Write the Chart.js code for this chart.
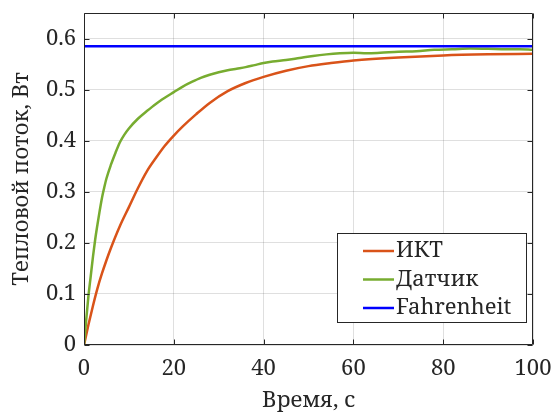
<!DOCTYPE html>
<html>
<head>
<meta charset="utf-8">
<script src="https://cdn.jsdelivr.net/npm/chart.js@4/dist/chart.umd.min.js"></script>
<style>
  html, body { margin: 0; padding: 0; background: #fff; }
  #wrap { width: 554px; height: 414px; }
</style>
</head>
<body>
<div id="wrap"><canvas id="grafico" width="554" height="414"></canvas></div>
<script>
// данные
const tempoIKT = [0, 1, 2, 3, 4, 5, 6, 8, 10, 12, 14, 16, 18, 20, 22, 25, 28, 32, 36, 40, 45, 50, 55, 60, 70, 80, 90, 100];
const valoresIKT = [0, 0.04, 0.077, 0.111, 0.14, 0.166, 0.19, 0.233, 0.27, 0.307, 0.34, 0.366, 0.39, 0.41, 0.428, 0.452, 0.474, 0.497, 0.513, 0.525, 0.537, 0.546, 0.552, 0.557, 0.563, 0.567, 0.569, 0.57];

const tempoSensor = [0, 0.5, 1, 1.5, 2, 2.5, 3, 3.5, 4, 4.5, 5, 6, 7, 8, 9, 10, 12, 14, 16, 18, 20, 22, 24, 26, 28, 30, 32, 34, 36, 38, 40, 42, 45, 48, 51, 54, 57, 60, 63, 66, 70, 74, 78, 82, 86, 90, 94, 97, 100];
const valoresSensor = [0, 0.05, 0.097, 0.135, 0.173, 0.207, 0.236, 0.263, 0.288, 0.308, 0.326, 0.353, 0.376, 0.397, 0.412, 0.424, 0.443, 0.458, 0.472, 0.484, 0.495, 0.506, 0.515, 0.523, 0.529, 0.534, 0.538, 0.541, 0.544, 0.548, 0.552, 0.555, 0.558, 0.562, 0.566, 0.569, 0.571, 0.572, 0.571, 0.572, 0.574, 0.575, 0.578, 0.579, 0.5805, 0.58, 0.579, 0.579, 0.578];

const tempoFahr = [0, 100];
const valoresFahr = [0.585, 0.585];

const rotulos = ['ИКТ', 'Датчик', 'Fahrenheit'];
const cores = ['#D95319', '#77AC30', '#0000FF'];

const corTexto = '#262626';
const fonte = "'Noto Serif', 'DejaVu Serif', serif";
const tamFonte = 22;

function pontos(xs, ys) {
  return xs.map((x, i) => ({ x: x, y: ys[i] }));
}

// caixa + ticks internos estilo MATLAB
const caixaPlugin = {
  id: 'caixa',
  afterDraw(chart) {
    const ctx = chart.ctx;
    const a = chart.chartArea;
    const sx = chart.scales.x, sy = chart.scales.y;
    const L = Math.round(a.left) + 0.5, R = Math.round(a.right) - 0.5;
    const T = Math.round(a.top) + 0.5, B = Math.round(a.bottom) - 0.5;
    ctx.save();
    ctx.strokeStyle = corTexto;
    ctx.lineWidth = 1;
    ctx.beginPath();
    ctx.rect(L, T, R - L, B - T);
    sx.ticks.forEach(t => {
      const px = Math.round(sx.getPixelForValue(t.value)) + 0.5;
      ctx.moveTo(px, B); ctx.lineTo(px, B - 5);
      ctx.moveTo(px, T); ctx.lineTo(px, T + 5);
    });
    sy.ticks.forEach(t => {
      const py = Math.round(sy.getPixelForValue(t.value)) + 0.5;
      ctx.moveTo(L, py); ctx.lineTo(L + 5, py);
      ctx.moveTo(R, py); ctx.lineTo(R - 5, py);
    });
    ctx.stroke();

    // legenda dentro da área
    const lw = 189, lh = 89;
    const lx = a.right - 7 - lw, ly = a.bottom - 23 - lh;
    ctx.fillStyle = '#fff';
    ctx.fillRect(lx, ly, lw, lh);
    ctx.strokeStyle = corTexto;
    ctx.strokeRect(Math.round(lx) + 0.5, Math.round(ly) + 0.5, lw, lh);
    ctx.font = tamFonte + 'px ' + fonte;
    ctx.textBaseline = 'middle';
    ctx.textAlign = 'left';
    chart.data.datasets.forEach((ds, i) => {
      const cy = ly + 18 + i * 28.5;
      ctx.strokeStyle = ds.borderColor;
      ctx.lineWidth = 2.5;
      ctx.beginPath();
      ctx.moveTo(lx + 26, cy); ctx.lineTo(lx + 57, cy);
      ctx.stroke();
      ctx.fillStyle = corTexto;
      ctx.fillText(ds.label, lx + 59, cy);
    });
    ctx.restore();
  }
};

const ctx = document.getElementById('grafico').getContext('2d');
new Chart(ctx, {
  type: 'line',
  data: {
    datasets: [
      { label: rotulos[0], data: pontos(tempoIKT, valoresIKT), borderColor: cores[0], order: 3 },
      { label: rotulos[1], data: pontos(tempoSensor, valoresSensor), borderColor: cores[1], order: 2 },
      { label: rotulos[2], data: pontos(tempoFahr, valoresFahr), borderColor: cores[2], order: 1 }
    ]
  },
  options: {
    responsive: false,
    animation: false,
    devicePixelRatio: 1,
    datasets: {
      line: {
        borderWidth: 2.5,
        pointRadius: 0,
        fill: false,
        cubicInterpolationMode: 'monotone'
      }
    },
    layout: { padding: { top: 13, right: 21, left: 0, bottom: 0 } },
    plugins: {
      legend: { display: false },
      tooltip: { enabled: false }
    },
    scales: {
      x: {
        type: 'linear',
        min: 0,
        max: 100,
        afterFit: s => { s.height = 69; s.paddingLeft = 0; s.paddingRight = 0; },
        ticks: { stepSize: 20, padding: 11, color: corTexto, font: { family: fonte, size: tamFonte }, maxRotation: 0 },
        grid: { color: 'rgba(38,38,38,0.15)', drawTicks: false },
        border: { display: false },
        title: { display: true, text: 'Время, с', color: corTexto, font: { family: fonte, size: tamFonte }, padding: { top: 0, bottom: 0 } }
      },
      y: {
        min: 0,
        max: 0.65,
        afterFit: s => { s.width = 84; s.paddingTop = 0; s.paddingBottom = 0; },
        ticks: { stepSize: 0.1, includeBounds: false, padding: 8, color: corTexto, font: { family: fonte, size: tamFonte } },
        grid: { color: 'rgba(38,38,38,0.15)', drawTicks: false },
        border: { display: false },
        title: { display: true, text: 'Тепловой поток, Вт', color: corTexto, font: { family: fonte, size: tamFonte }, padding: { top: 9, bottom: 0 } }
      }
    }
  },
  plugins: [caixaPlugin]
});
</script>
</body>
</html>
